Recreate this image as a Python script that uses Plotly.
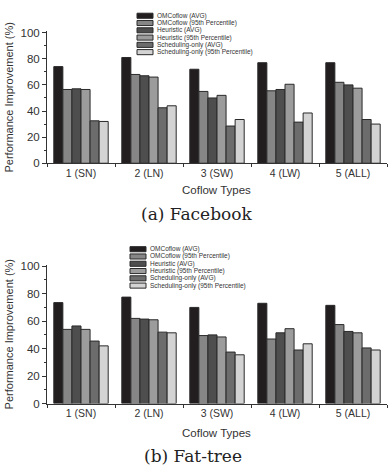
import plotly.graph_objects as go

categories = ["1 (SN)", "2 (LN)", "3 (SW)", "4 (LW)", "5 (ALL)"]
series_names = ["OMCoflow (AVG)", "OMCoflow (95th Percentile)", "Heuristic (AVG)",
                "Heuristic (95th Percentile)", "Scheduling-only (AVG)",
                "Scheduling-only (95th Percentile)"]
colors = ["#221e1f", "#868686", "#4e4e4e", "#9c9c9c", "#6c6c6c", "#d3d3d3"]

facebook = [
    [74, 81, 72, 77, 77],
    [56.5, 68, 55, 55.5, 62],
    [57, 67, 50, 56.5, 60],
    [56.5, 66, 52, 60.5, 57.5],
    [32.5, 42.5, 28.5, 31.5, 33.5],
    [32, 44, 33.5, 38.5, 30],
]
fattree = [
    [73.5, 77.5, 70, 73, 71.5],
    [54, 62, 49.5, 47, 57.5],
    [56.5, 61.5, 50, 51.5, 52.5],
    [54, 61, 48.5, 54.5, 51.5],
    [45.5, 52, 37.5, 39, 40.5],
    [42, 51.5, 35.5, 43.5, 39],
]
y_ticks = [0, 20, 40, 60, 80, 100]
captions = ["(a) Facebook", "(b) Fat-tree"]

W, H = 389, 475
def px(x): return x / W
def py(y): return 1 - y / H

fig = go.Figure()
panels = [
    dict(data=facebook, xa="x", ya="y", xd=[px(47), px(387)], yd=[py(162), py(27)],
         leg_x=137, leg_y0=11.0, leg_dy=7.45, cap_y=214, cap_x=197, title_y=189),
    dict(data=fattree, xa="x2", ya="y2", xd=[px(47), px(387)], yd=[py(408), py(266)],
         leg_x=130, leg_y0=250.0, leg_dy=7.45, cap_y=462, cap_x=193, title_y=438),
]

shapes = []
annotations = []
for pi, p in enumerate(panels):
    for si, name in enumerate(series_names):
        fig.add_trace(go.Bar(
            x=categories, y=p["data"][si], name=name,
            marker=dict(color=colors[si], line=dict(color="#2a2a2a", width=1)),
            xaxis=p["xa"], yaxis=p["ya"], showlegend=False,
        ))
        # manual compact legend
        yc = p["leg_y0"] + si * p["leg_dy"]
        shapes.append(dict(type="rect", xref="paper", yref="paper",
                           x0=px(p["leg_x"]), x1=px(p["leg_x"] + 16),
                           y0=py(yc - 2.6), y1=py(yc + 2.6),
                           fillcolor=colors[si], line=dict(color="#2a2a2a", width=1)))
        annotations.append(dict(xref="paper", yref="paper", x=px(p["leg_x"] + 18), y=py(yc),
                                text=name, showarrow=False, xanchor="left", yanchor="middle",
                                font=dict(size=6.5, color="#333333", family="Liberation Sans")))
    annotations.append(dict(xref="paper", yref="paper", x=px(p["cap_x"]), y=py(p["cap_y"]),
                            text=captions[pi], showarrow=False, xanchor="center", yanchor="middle",
                            font=dict(size=17, color="#222222", family="DejaVu Serif")))
    annotations.append(dict(xref="paper", yref="paper", x=px(217), y=py(p["title_y"]),
                            text="Coflow Types", showarrow=False, xanchor="center", yanchor="middle",
                            font=dict(size=11.5, color="#333333", family="Liberation Sans")))

axis_common_x = dict(showline=True, linecolor="#333333", linewidth=1, ticks="outside",
                     tickson="boundaries", ticklen=3, tickcolor="#333333",
                     tickfont=dict(size=10.5, color="#333333", family="Liberation Sans"),
                     showgrid=False, zeroline=False)
axis_common_y = dict(range=[0, 101], tickvals=y_ticks, showline=True, linecolor="#333333",
                     linewidth=1, ticks="outside", ticklen=4, tickcolor="#333333",
                     minor=dict(dtick=10, ticks="outside", ticklen=2, tickcolor="#333333"),
                     tickfont=dict(size=11.5, color="#333333", family="Liberation Sans"),
                     showgrid=False, zeroline=False,
                     title=dict(text="Performance Improvement (%)", standoff=4,
                                font=dict(size=11, color="#333333", family="Liberation Sans")))

fig.update_layout(
    width=W, height=H, margin=dict(l=0, r=0, t=0, b=0),
    paper_bgcolor="white", plot_bgcolor="white",
    barmode="group", bargap=0.2, bargroupgap=0,
    showlegend=False,
    xaxis=dict(domain=panels[0]["xd"], anchor="y", **axis_common_x),
    yaxis=dict(domain=panels[0]["yd"], anchor="x", **axis_common_y),
    xaxis2=dict(domain=panels[1]["xd"], anchor="y2", **axis_common_x),
    yaxis2=dict(domain=panels[1]["yd"], anchor="x2", **axis_common_y),
    shapes=shapes, annotations=annotations,
)

fig.write_html("out.html", config={"displayModeBar": False},
               post_script="document.body.style.margin='0';document.body.style.overflow='hidden';")
